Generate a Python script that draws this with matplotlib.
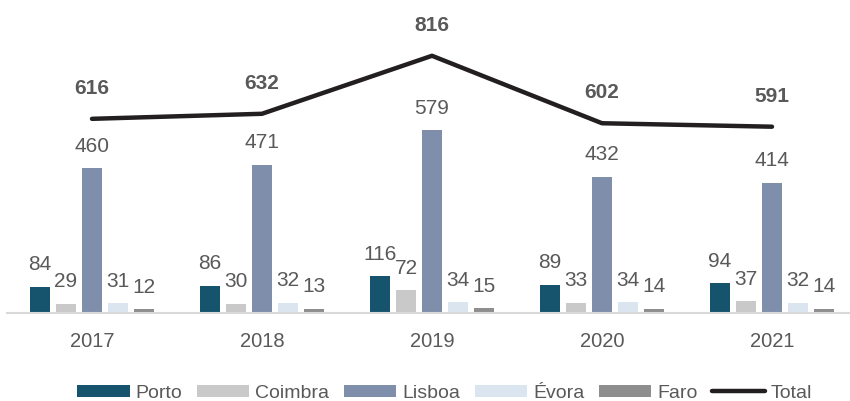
import matplotlib
matplotlib.use("Agg")
import matplotlib.pyplot as plt
import numpy as np

years = ["2017", "2018", "2019", "2020", "2021"]
porto = [84, 86, 116, 89, 94]
coimbra = [29, 30, 72, 33, 37]
lisboa = [460, 471, 579, 432, 414]
evora = [31, 32, 34, 34, 32]
faro = [12, 13, 15, 14, 14]
total = [616, 632, 816, 602, 591]

series_names = ["Porto", "Coimbra", "Lisboa", "Évora", "Faro"]
series_vals = [porto, coimbra, lisboa, evora, faro]
colors = ["#16546e", "#c9c9c9", "#7f8eaa", "#dae5f0", "#8e8e8e"]

plt.rcParams['font.family'] = ['Liberation Sans', 'DejaVu Sans']
label_color = "#595959"

fig = plt.figure(figsize=(8.5, 4.01), dpi=100)
ax = fig.add_axes([7/850, 1 - 313/401, 843/850, (313 - 10)/401])

x = np.arange(len(years))
step = 26/170
width = 20/170
handles = []
for i, (name, vals, c) in enumerate(zip(series_names, series_vals, colors)):
    pos = x + (i - 2) * step
    bars = ax.bar(pos, vals, width=width, color=c, label=name, zorder=2)
    handles.append(bars)
    for xp, v in zip(pos, vals):
        ax.annotate(str(v), (xp, v), xytext=(0, 9), textcoords="offset points",
                    ha="center", va="bottom", fontsize=15, color=label_color)

line, = ax.plot(x, total, color="#231f20", linewidth=3.2, label="Total", zorder=3,
                solid_capstyle="round")
handles.append(line)
for xp, v in zip(x, total):
    ax.annotate(str(v), (xp, v), xytext=(0, 15), textcoords="offset points",
                ha="center", va="bottom", fontsize=15, fontweight="bold",
                color=label_color)

ax.set_xlim(-0.5, -0.5 + 843/170)
ax.set_ylim(0, (313 - 10) / (145/460))
for s in ["top", "right", "left"]:
    ax.spines[s].set_visible(False)
ax.spines["bottom"].set_color("#d9d9d9")
ax.spines["bottom"].set_linewidth(1.5)
ax.set_yticks([])
ax.set_xticks(x)
ax.set_xticklabels(years, fontsize=14.5, color=label_color)
ax.tick_params(axis="x", length=0, pad=14)

fig.legend(handles=handles, labels=series_names + ["Total"],
           loc="lower center", bbox_to_anchor=(0.523, -0.045), ncol=6, frameon=False,
           fontsize=14, handlelength=2.7, handleheight=0.55, handletextpad=0.3,
           columnspacing=0.75, labelcolor=label_color)

fig.savefig("out.png", dpi=100)
